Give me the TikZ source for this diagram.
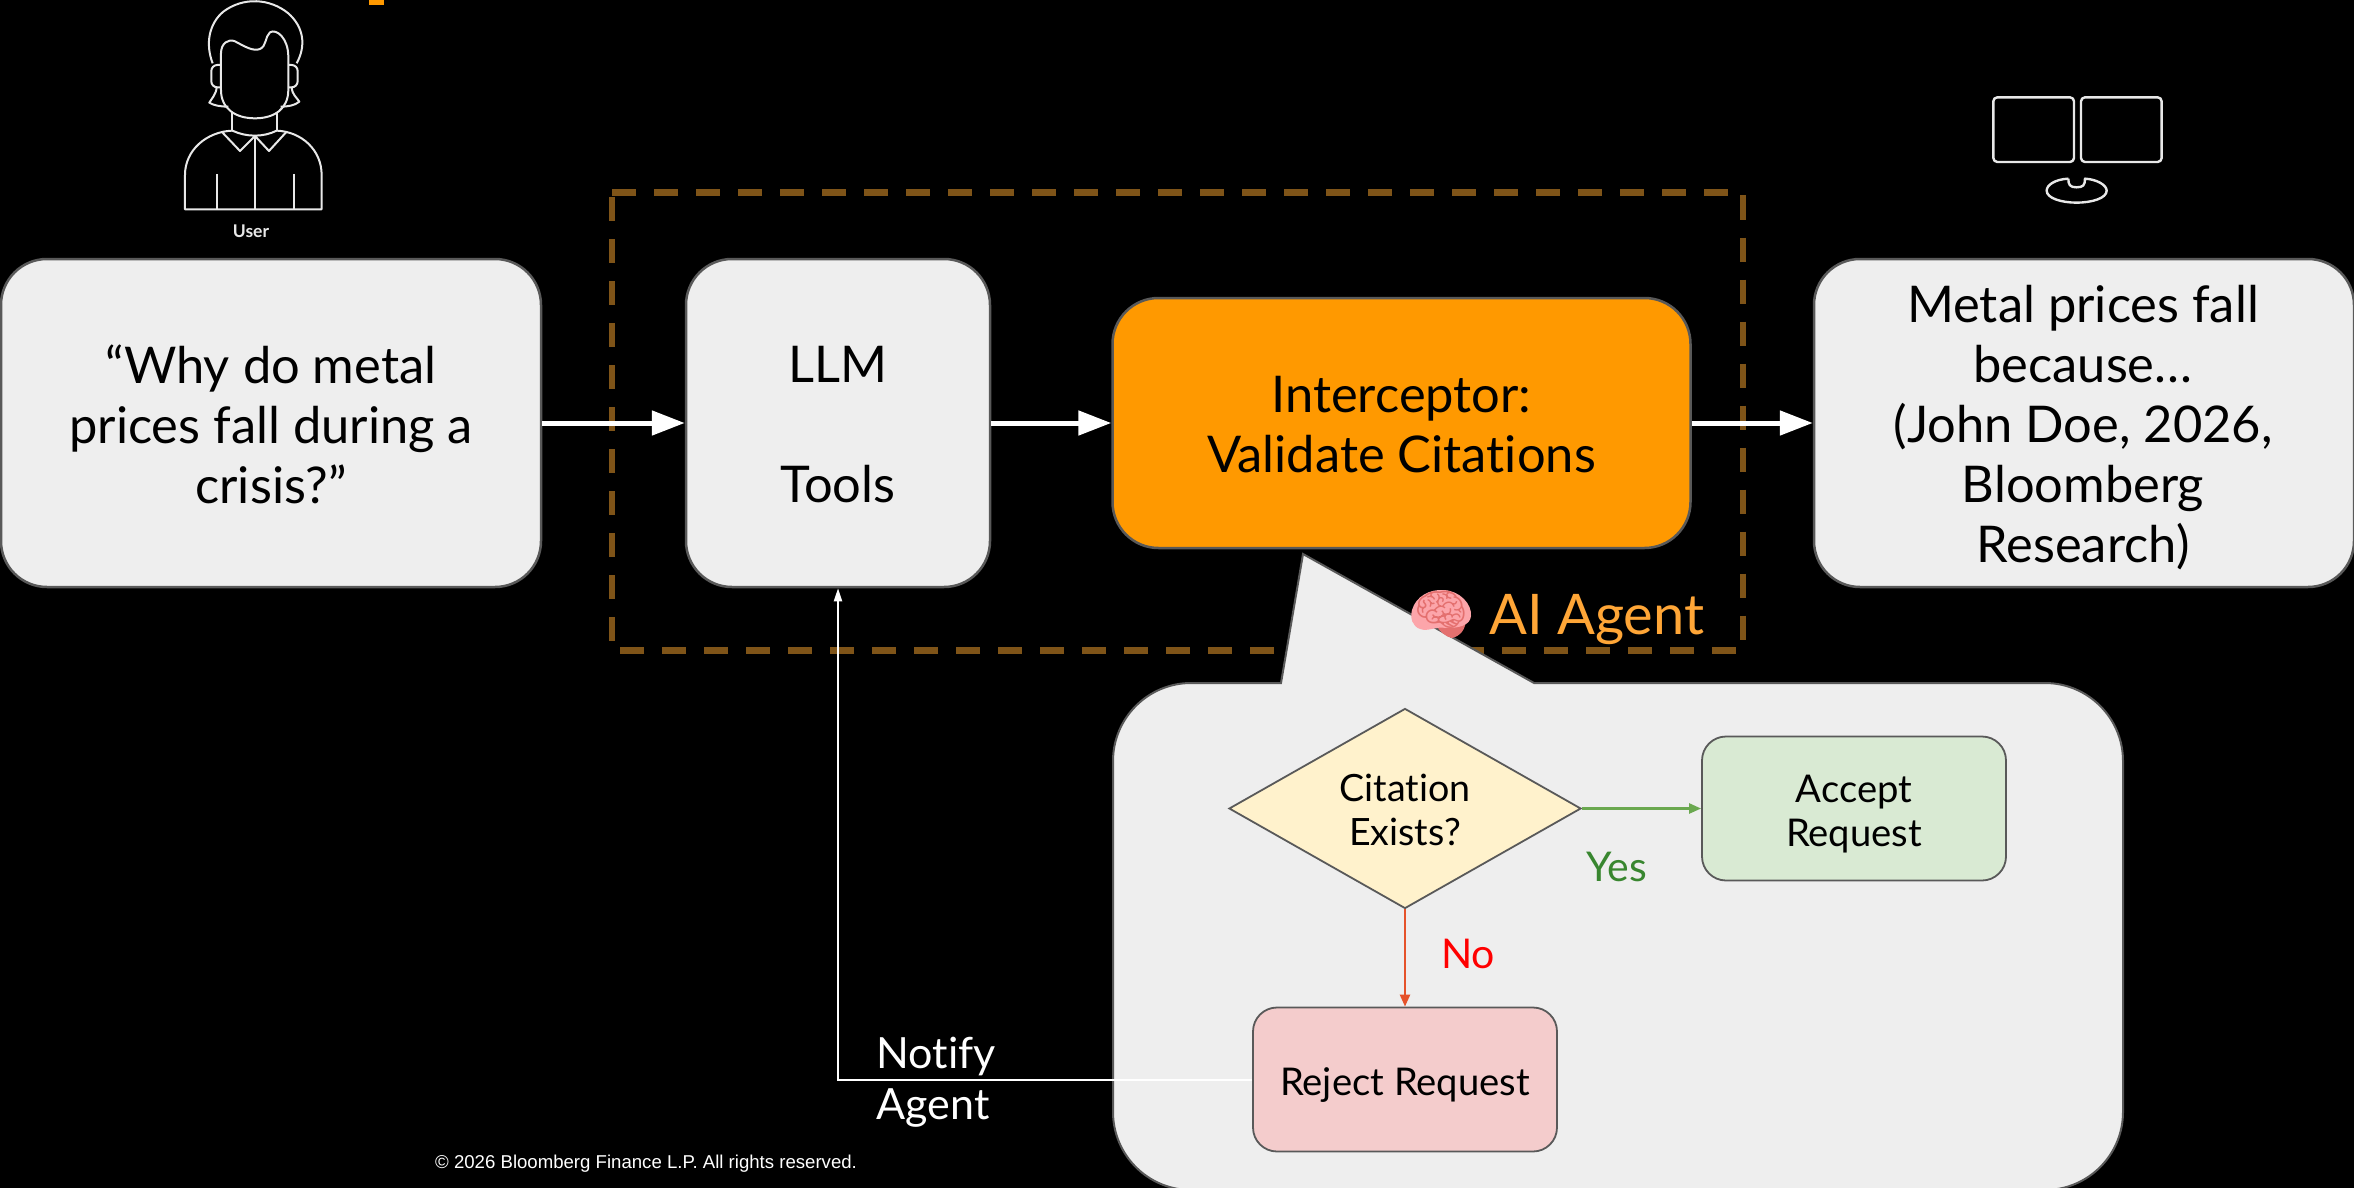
\documentclass[tikz,border=0pt]{standalone}
\usepackage{fontspec}
\setmainfont{Lato}[Ligatures=NoCommon]
\newfontfamily\emojifont{Noto Emoji}
\newfontfamily\arialfont{Liberation Sans}
\usetikzlibrary{arrows.meta,shapes.geometric}
\definecolor{boxgrey}{HTML}{EEEEEE}
\definecolor{edgegrey}{HTML}{595959}
\definecolor{orangebox}{HTML}{FF9900}
\definecolor{dashbrown}{HTML}{7F5418}
\definecolor{agentorange}{HTML}{FFA637}
\definecolor{yellowbox}{HTML}{FFF2CC}
\definecolor{greenbox}{HTML}{D9EAD3}
\definecolor{redbox}{HTML}{F4CCCC}
\definecolor{yesgreen}{HTML}{38862F}
\definecolor{arrowgreen}{HTML}{6AA84F}
\definecolor{arrowred}{HTML}{E5522A}
\definecolor{icon}{HTML}{E8E8E8}
\definecolor{brainpink}{HTML}{FCA5AA}
\definecolor{braindark}{HTML}{E4706F}
\tikzset{
  x=1pt,y=-1pt,
  bigbox/.style={draw=edgegrey,line width=2.5pt,rounded corners=46pt,fill=boxgrey,inner sep=0pt},
  bigtext/.style={text=black,align=center,inner sep=0pt,font=\fontsize{50.6}{60}\selectfont,yshift=-1.5pt},
  smallbox/.style={draw=edgegrey,line width=1.8pt,rounded corners=24pt,inner sep=0pt},
  smalltext/.style={text=black,align=center,inner sep=0pt,font=\fontsize{38.2}{44}\selectfont,yshift=-5.5pt},
  whitearrow/.style={draw=white,line width=5pt,-{Triangle[length=33pt,width=24pt]}},
  thinarrow/.style={line width=2.4pt,-{Triangle[length=12pt,width=10pt]}},
  iconline/.style={draw=icon,line width=2pt,line join=round},
  lbl/.style={inner sep=0pt,anchor=center},
}
\begin{document}
\begin{tikzpicture}
\useasboundingbox[fill=black] (0,0) rectangle (2354,1188);
% top orange fragment
\fill[orangebox] (369,0) rectangle (384,5);
% dashed group
\coordinate (ga) at (612,192.5);
\coordinate (gb) at (1743,192.5);
\coordinate (gc) at (1743,650.5);
\coordinate (gd) at (612,650.5);
\draw[dashbrown,line width=6.5pt,dash pattern=on 24pt off 18pt] (ga) -- (gb) -- (gc) -- (gd) -- cycle;
% main boxes
\node[bigbox,minimum width=540pt,minimum height=328pt,label={[bigtext]center:{“Why do metal\\prices fall during a\\crisis?”}}] (query) at (271,423) {};
\node[bigbox,minimum width=304pt,minimum height=328pt,label={[bigtext]center:{LLM\\[60pt]Tools}}] (llm) at (838,423) {};
\node[bigbox,fill=orangebox,minimum width=578pt,minimum height=250pt,label={[bigtext]center:{Interceptor:\\Validate Citations}}] (inter) at (1401.5,423) {};
\node[bigbox,minimum width=540pt,minimum height=328pt,label={[bigtext,yshift=-3pt,xshift=-1pt]center:{Metal prices fall\\because…\\(John Doe, 2026,\\Bloomberg\\Research)}}] (answer) at (2084,423) {};
\draw[whitearrow] (query.east) -- (llm.west);
\draw[whitearrow] (llm.east) -- (inter.west);
\draw[whitearrow] (inter.east) -- (answer.west);
% callout
\path[fill=boxgrey,draw=edgegrey,line width=2pt]
  (1303,554) -- (1281,683) -- (1191,683) .. controls (1148,683) and (1113,718) .. (1113,761) -- (1113,1112) .. controls (1113,1155) and (1148,1190) .. (1191,1190)
  -- (2045,1190) .. controls (2088,1190) and (2123,1155) .. (2123,1112) -- (2123,761) .. controls (2123,718) and (2088,683) .. (2045,683) -- (1534,683) -- cycle;
% brain
\fill[braindark] (1436,625) -- (1466,618) .. controls (1466,630) and (1460,636) .. (1452,638) .. controls (1446,637) and (1440,632) .. (1436,625) -- cycle;
\fill[brainpink] (1412,610) .. controls (1416,596) and (1430,589) .. (1444,590) .. controls (1460,591) and (1472,604) .. (1471,616) .. controls (1470,626) and (1458,628) .. (1446,628) .. controls (1436,626) and (1428,632) .. (1420,629) .. controls (1412,626) and (1410,618) .. (1412,610) -- cycle;
\node[lbl,text=braindark,font=\emojifont\fontsize{43}{43}\selectfont] (brain) at (1441,610) {🧠};
\node[lbl,text=agentorange,anchor=west,font=\fontsize{56}{60}\selectfont] (agent) at (1489,620) {AI Agent};
% flow chart
\node[diamond,aspect=1.76,draw=edgegrey,line width=1.8pt,fill=yellowbox,inner sep=0pt,minimum width=352pt,minimum height=200pt,label={[smalltext,font=\fontsize{37.6}{44}\selectfont,yshift=4pt]center:{Citation\\Exists?}}] (cite) at (1405,808.5) {};
\node[smallbox,fill=greenbox,minimum width=304pt,minimum height=144pt,label={[smalltext]center:{Accept\\Request}}] (accept) at (1854,808.5) {};
\node[smallbox,fill=redbox,minimum width=304pt,minimum height=144pt,label={[smalltext]center:{Reject Request}}] (reject) at (1405,1079.5) {};
\draw[thinarrow,arrowgreen] (cite.east) -- (accept.west);
\draw[thinarrow,arrowred] (cite.south) -- (reject.north);
\draw[white,line width=2pt,-{Triangle[length=13pt,width=8pt]}] (reject.west) -| (llm.south);
\node[lbl,text=yesgreen,font=\fontsize{41}{48}\selectfont] (yes) at (1617,867) {Yes};
\node[lbl,text=red,font=\fontsize{41}{48}\selectfont] (no) at (1468,954) {No};
\node[lbl,text=white,font=\fontsize{43}{51}\selectfont,align=left] (notify) at (936,1082) {Notify\\Agent};
\node[lbl,text=white,anchor=west,font=\arialfont\fontsize{18.6}{24}\selectfont] (copyright) at (435,1164) {© 2026 Bloomberg Finance L.P. All rights reserved.};
% user icon
\begin{scope}[shift={(120,0)},x=0.3333pt,y=-0.3333pt]
  \draw[iconline] (278,190) .. controls (255,130) and (268,70) .. (310,35) .. controls (370,-10) and (450,-5) .. (505,40) .. controls (550,80) and (560,135) .. (530,190);
  \draw[iconline] (303,195) -- (303,160) .. controls (303,130) and (325,115) .. (345,124) .. controls (375,140) and (400,155) .. (420,147) .. controls (440,138) and (435,110) .. (450,97) .. controls (470,85) and (505,115) .. (505,170) -- (505,270) .. controls (505,325) and (465,355) .. (405,355) .. controls (345,355) and (303,325) .. (303,270) -- cycle;
  \draw[iconline,rounded corners=6pt] (303,195) -- (274,195) -- (274,262) -- (303,262);
  \draw[iconline,rounded corners=6pt] (505,195) -- (533,195) -- (533,262) -- (505,262);
  \draw[iconline] (290,262) .. controls (288,285) and (275,295) .. (268,308) .. controls (280,316) and (300,320) .. (325,320);
  \draw[iconline] (515,262) .. controls (517,285) and (530,292) .. (538,305) .. controls (525,316) and (505,320) .. (482,320);
  \draw[iconline] (337,335) -- (337,392);
  \draw[iconline] (470,335) -- (470,392);
  \draw[iconline] (337,392) .. controls (260,395) and (195,450) .. (195,525) -- (195,628) -- (605,628) -- (605,525) .. controls (605,450) and (545,395) .. (470,392);
  \draw[iconline] (337,392) .. controls (380,412) and (430,412) .. (470,392);
  \draw[iconline] (305,395) -- (360,453) -- (405,408) -- (447,453) -- (500,395);
  \draw[iconline] (405,408) -- (405,628);
  \draw[iconline] (290,522) -- (290,628);
  \draw[iconline] (523,522) -- (523,628);
\end{scope}
\node[lbl,text=icon,font=\bfseries\fontsize{17.5}{20}\selectfont] (user) at (251,231) {User};
% monitors
\begin{scope}[shift={(1940,70)},x=0.3333pt,y=-0.3333pt]
  \draw[iconline,line width=2.4pt,rounded corners=4pt] (160,82) rectangle (402,276);
  \draw[iconline,line width=2.4pt,rounded corners=4pt] (423,82) rectangle (665,276);
  \draw[iconline,line width=2.4pt] (385,326) .. controls (345,328) and (320,345) .. (320,362) .. controls (320,385) and (365,398) .. (410,398) .. controls (455,398) and (500,385) .. (500,362) .. controls (500,345) and (470,328) .. (435,326) .. controls (435,345) and (430,352) .. (410,352) .. controls (390,352) and (385,345) .. (385,326);
\end{scope}
\end{tikzpicture}
\end{document}
